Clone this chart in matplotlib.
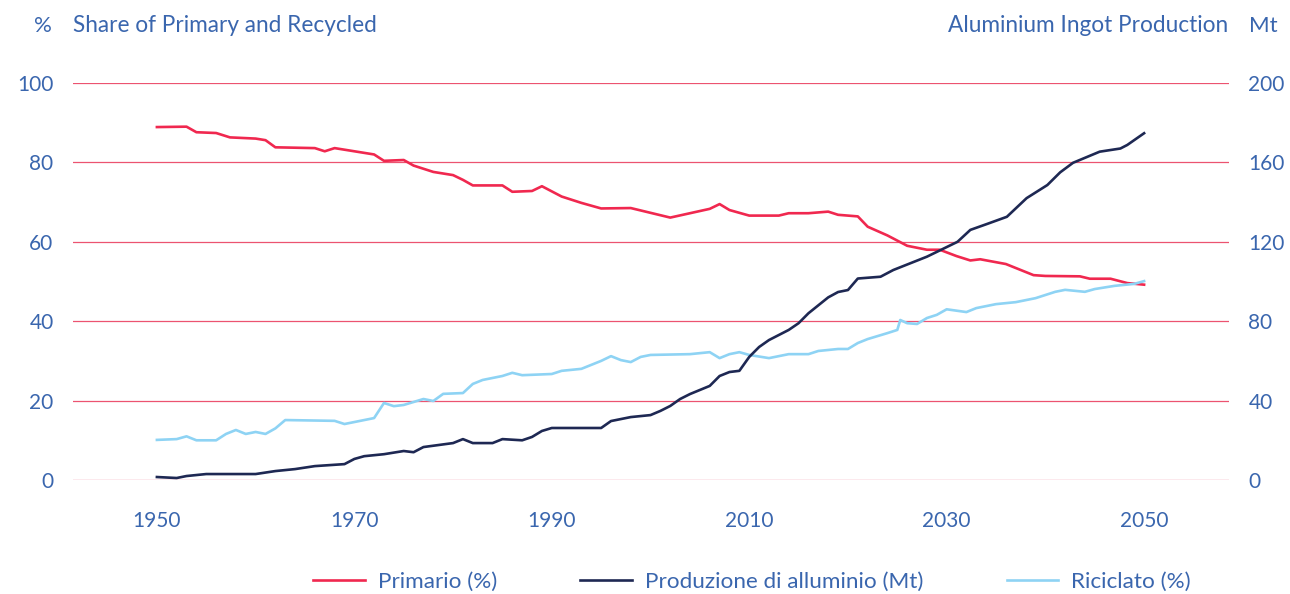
import matplotlib.pyplot as plt
from matplotlib.lines import Line2D

# Quota primario (%)
anni_primario = [1950, 1953, 1954, 1956, 1957.4, 1960, 1961, 1962, 1966, 1967, 1968, 1970, 1972,
                 1973, 1975, 1976, 1978, 1980, 1981, 1982, 1985, 1986, 1988, 1989, 1991, 1993,
                 1995, 1998, 2000, 2002, 2004, 2006, 2007, 2008, 2010, 2013, 2014, 2016, 2018,
                 2019, 2021, 2022, 2024, 2026, 2028, 2029.3, 2031, 2032.4, 2033.4, 2036, 2038.8,
                 2040, 2043.5, 2044.5, 2046.6, 2048.3, 2050]
primario = [88.9, 89.0, 87.6, 87.4, 86.3, 86.0, 85.6, 83.8, 83.6, 82.8, 83.6, 82.8, 82.0,
            80.4, 80.6, 79.2, 77.6, 76.8, 75.6, 74.2, 74.2, 72.6, 72.8, 74.0, 71.4, 69.8,
            68.4, 68.5, 67.3, 66.1, 67.2, 68.3, 69.5, 68.0, 66.6, 66.6, 67.2, 67.2, 67.6,
            66.8, 66.4, 63.8, 61.6, 59.0, 58.0, 58.0, 56.4, 55.3, 55.6, 54.4, 51.6,
            51.4, 51.3, 50.7, 50.7, 49.6, 49.2]

# Produzione di alluminio (Mt)
anni_produzione = [1950, 1952, 1953, 1955, 1960, 1962, 1964, 1966, 1969, 1970, 1971, 1973, 1975,
                   1976, 1977, 1980, 1981, 1982, 1984, 1985, 1987, 1988, 1989, 1990, 1995, 1996,
                   1998, 2000, 2001, 2002, 2003, 2004, 2006, 2007, 2008, 2009, 2010, 2011, 2012,
                   2014, 2015, 2016, 2018, 2019, 2020, 2021, 2023.3, 2024.6, 2028, 2031.1, 2032.4,
                   2034.1, 2036.1, 2038.1, 2040.2, 2041.5, 2042.8, 2045.5, 2047.6, 2048.3, 2050]
produzione = [1.5, 1.0, 2.0, 3.0, 3.0, 4.5, 5.5, 7.0, 8.0, 10.6, 12.0, 13.0, 14.6,
              14.0, 16.6, 18.6, 20.6, 18.6, 18.6, 20.6, 20.0, 21.7, 24.7, 26.2, 26.2, 29.7,
              31.7, 32.7, 34.8, 37.3, 40.8, 43.3, 47.4, 52.4, 54.4, 55.0, 62.0, 67.0, 70.5,
              75.6, 79.0, 84.0, 92.0, 94.7, 95.7, 101.5, 102.4, 105.8, 112.5, 120.0, 126.0,
              129.0, 132.6, 142.0, 148.6, 155.0, 159.8, 165.4, 167.0, 168.8, 174.7]

# Quota riciclato (%)
anni_riciclato = [1950, 1952, 1953, 1954, 1956, 1957, 1958, 1959, 1960, 1961, 1962, 1963, 1968,
                  1969, 1970, 1971, 1972, 1973, 1974, 1975, 1977, 1978, 1979, 1981, 1982, 1983,
                  1985, 1986, 1987, 1990, 1991, 1993, 1995, 1996, 1997, 1998, 1999, 2000, 2004,
                  2006, 2007, 2008, 2009, 2010, 2012, 2014, 2016, 2017, 2019, 2020, 2021, 2022,
                  2024, 2025, 2025.3, 2026, 2027, 2028, 2029, 2030, 2032, 2033, 2035, 2037,
                  2039, 2041, 2042, 2044, 2045, 2047, 2049, 2050]
riciclato = [10.1, 10.3, 11.0, 10.0, 10.0, 11.6, 12.6, 11.6, 12.1, 11.6, 13.0, 15.1, 14.9,
             14.1, 14.6, 15.1, 15.6, 19.4, 18.6, 18.9, 20.4, 19.9, 21.7, 21.9, 24.2, 25.2,
             26.2, 27.0, 26.4, 26.7, 27.5, 28.0, 30.0, 31.2, 30.2, 29.7, 31.0, 31.5, 31.7,
             32.2, 30.7, 31.7, 32.2, 31.5, 30.7, 31.7, 31.7, 32.5, 33.0, 33.0, 34.5, 35.5,
             37.0, 37.8, 40.3, 39.5, 39.3, 40.8, 41.6, 43.0, 42.3, 43.3, 44.3, 44.8,
             45.8, 47.4, 47.9, 47.4, 48.1, 48.9, 49.4, 50.1]

anni_tick = [1950, 1970, 1990, 2010, 2030, 2050]
tick_pct = [0, 20, 40, 60, 80, 100]
tick_mt = [0, 40, 80, 120, 160, 200]

ROSSO = '#F0284F'
BLU_SCURO = '#1E2853'
AZZURRO = '#8ED3F4'
TESTO = '#3A66AE'
GRIGLIA = '#EC5370'

plt.rcParams['font.family'] = ['Lato', 'DejaVu Sans']

fig = plt.figure(figsize=(12.9, 5.94), dpi=100)
ax = fig.add_axes([73 / 1290, 1 - 480 / 594, (1229 - 73) / 1290, (480 - 83) / 594])
ax2 = ax.twinx()

ax.set_xlim(1941.5, 2058.6)
ax.set_ylim(0, 100)
ax2.set_ylim(0, 200)

for t in tick_pct:
    ax.axhline(t, color=GRIGLIA, linewidth=0.9, zorder=1)

ax.plot(anni_primario, primario, color=ROSSO, linewidth=1.9, zorder=3, clip_on=False)
ax.plot(anni_riciclato, riciclato, color=AZZURRO, linewidth=1.9, zorder=3, clip_on=False)
ax2.plot(anni_produzione, produzione, color=BLU_SCURO, linewidth=1.9, zorder=3, clip_on=False)

for a in (ax, ax2):
    for s in a.spines.values():
        s.set_visible(False)

ax.set_xticks(anni_tick)
ax.set_xticklabels([str(x) for x in anni_tick])
ax.set_yticks(tick_pct)
ax.set_yticklabels([str(x) for x in tick_pct])
ax2.set_yticks(tick_mt)
ax2.set_yticklabels([str(x) for x in tick_mt])

ax.tick_params(axis='x', length=0, pad=22, labelsize=15, labelcolor=TESTO)
ax.tick_params(axis='y', length=0, pad=14, labelsize=15, labelcolor=TESTO)
ax2.tick_params(axis='y', length=0, pad=14, labelsize=15, labelcolor=TESTO)

# titoli degli assi
y_tit = 1 - 26 / 594
fig.text(52 / 1290, y_tit, '%', ha='right', va='center', fontsize=16, color=TESTO)
fig.text(73 / 1290, y_tit, 'Share of Primary and Recycled', ha='left', va='center',
         fontsize=16.3, color=TESTO)
fig.text(1228 / 1290, y_tit, 'Aluminium Ingot Production', ha='right', va='center',
         fontsize=16.3, color=TESTO)
fig.text(1249 / 1290, y_tit, 'Mt', ha='left', va='center', fontsize=16, color=TESTO)

# legenda
maniglie = [Line2D([], [], color=ROSSO, linewidth=1.9),
            Line2D([], [], color=BLU_SCURO, linewidth=1.9),
            Line2D([], [], color=AZZURRO, linewidth=1.9)]
etichette = ['Primario (%)', 'Produzione di alluminio (Mt)', 'Riciclato (%)']
leg = fig.legend(maniglie, etichette, loc='center', bbox_to_anchor=(752 / 1290, 1 - 582 / 594),
                 ncol=3, frameon=False, fontsize=16.2, handlelength=2.3, handletextpad=0.58,
                 columnspacing=3.7)
for t in leg.get_texts():
    t.set_color(TESTO)

fig.savefig('out.png', dpi=100)
